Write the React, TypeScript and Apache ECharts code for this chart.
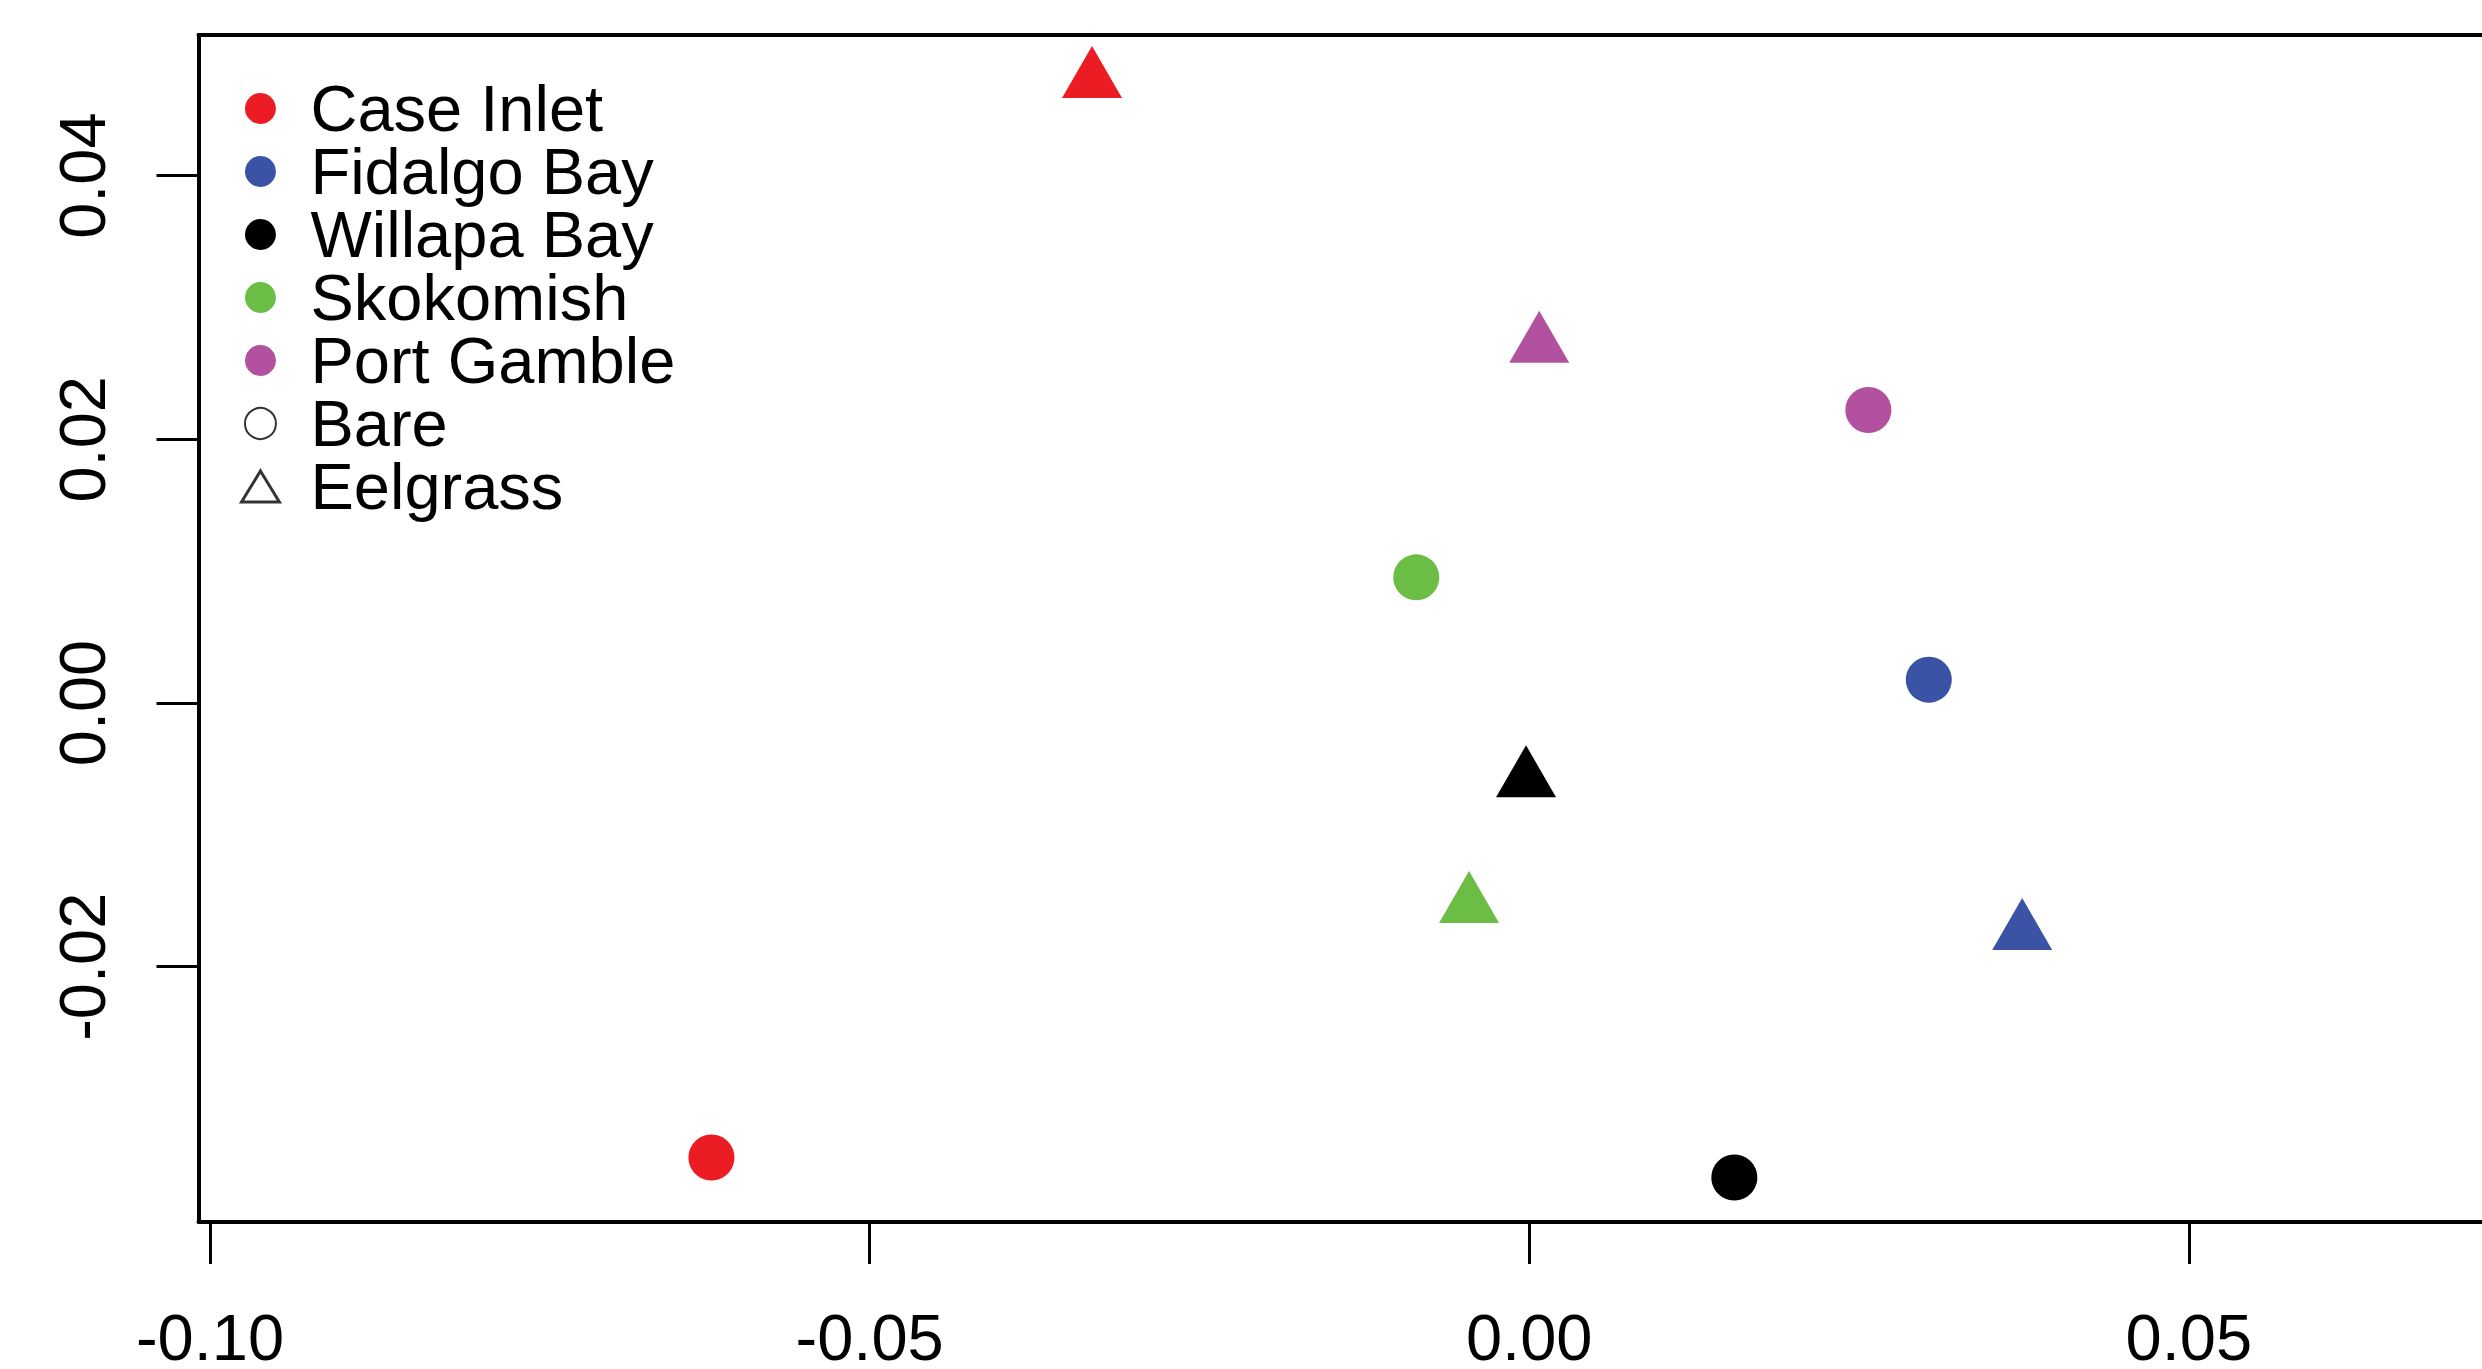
import React, { useEffect, useRef } from 'react';
import * as echarts from 'echarts';

const sites = ['Case Inlet', 'Fidalgo Bay', 'Willapa Bay', 'Skokomish', 'Port Gamble'];
const siteColors = ['#ec1c24', '#3a53a4', '#000000', '#6bbd45', '#b2519f'];
const habitats = ['Bare', 'Eelgrass'];
// Bare (filled circles)
const bareX = [-0.06199, 0.03029, 0.01555, -0.00856, 0.02571];
const bareY = [-0.03447, 0.00177, -0.03599, 0.00953, 0.02222];
// Eelgrass (filled triangles)
const eelX = [-0.03314, 0.03737, -0.00024, -0.00456, 0.00076];
const eelY = [0.0472, -0.01742, -0.00584, -0.01537, 0.02711];

const xTicks = [-0.1, -0.05, 0, 0.05];
const yTicks = [-0.02, 0, 0.02, 0.04];

const TRI_ICON = 'path://M22,0 L44,36 L0,36 Z';

export default function App() {
  const ref = useRef<HTMLDivElement>(null);
  useEffect(() => {
    const chart = echarts.init(ref.current!, null, { renderer: 'svg' });
    const font = 'Liberation Sans, Arial, Helvetica, sans-serif';
    const siteSeries = sites.map((name, i) => ({
      type: 'scatter',
      name,
      itemStyle: { color: siteColors[i], opacity: 1 },
      data: [
        { value: [bareX[i], bareY[i]], symbol: 'circle', symbolSize: 46 },
        {
          value: [eelX[i], eelY[i]],
          symbol: 'triangle',
          symbolSize: [60, 52],
          symbolOffset: [0, -8.7],
        },
      ],
    }));
    const habitatSeries = habitats.map((name) => ({
      type: 'scatter',
      name,
      itemStyle: { color: '#000000' },
      data: [],
    }));
    const lineStyle = { color: '#000', width: 4 };
    const tickStyle = { show: true, inside: false, length: 42, lineStyle: { color: '#000', width: 3 } };
    const xMin = -0.100872;
    const xMax = 0.072226;
    chart.setOption({
      animation: false,
      backgroundColor: '#ffffff',
      grid: {
        left: 198.5,
        top: 35,
        right: 0,
        height: 1187,
        show: false,
        containLabel: false,
        outerBoundsMode: 'none',
      },
      legend: {
        orient: 'vertical',
        left: 240,
        top: 76,
        padding: 0,
        itemWidth: 90,
        itemHeight: 31,
        itemGap: -2,
        selectedMode: false,
        textStyle: { fontSize: 65, fontFamily: font, color: '#000' },
        data: [
          ...sites.map((s) => ({ name: s, icon: 'circle' })),
          { name: habitats[0], icon: 'emptyCircle' },
          {
            name: habitats[1],
            icon: TRI_ICON,
            itemStyle: { color: '#ffffff', borderColor: '#000000', borderWidth: 3 },
          },
        ],
      },
      xAxis: [
        {
          type: 'value',
          position: 'bottom',
          min: xMin,
          max: xMax,
          axisLine: { show: true, onZero: false, lineStyle },
          splitLine: { show: false },
          axisTick: { ...tickStyle, customValues: xTicks },
          axisLabel: {
            customValues: xTicks,
            formatter: (v: number) => v.toFixed(2),
            fontSize: 65,
            fontFamily: font,
            color: '#000',
            margin: 83,
          },
        },
        {
          type: 'value',
          position: 'top',
          min: xMin,
          max: xMax,
          axisLine: { show: true, onZero: false, lineStyle },
          splitLine: { show: false },
          axisTick: { show: false },
          axisLabel: { show: false },
        },
      ],
      yAxis: {
        type: 'value',
        min: -0.039363,
        max: 0.050664,
        axisLine: { show: true, onZero: false, lineStyle },
        splitLine: { show: false },
        axisTick: { ...tickStyle, customValues: yTicks },
        axisLabel: {
          customValues: yTicks,
          formatter: (v: number) => v.toFixed(2),
          fontSize: 65,
          fontFamily: font,
          color: '#000',
          rotate: 90,
          margin: 84,
        },
      },
      series: [...siteSeries, ...habitatSeries],
    });
    return () => chart.dispose();
  }, []);
  return (
    <div
      ref={ref}
      style={{ position: 'fixed', left: 0, top: 0, width: 2482, height: 1369, background: '#fff' }}
    />
  );
}
